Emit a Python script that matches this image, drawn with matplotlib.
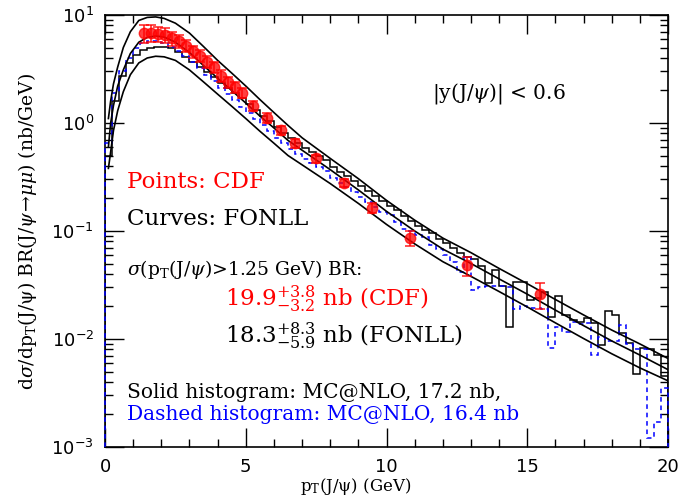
import matplotlib
matplotlib.use("Agg")
import matplotlib.pyplot as plt
import numpy as np
from matplotlib.ticker import FixedLocator, MultipleLocator, LogLocator, NullFormatter

plt.rcParams['font.family'] = ['DejaVu Serif']
plt.rcParams['mathtext.fontset'] = 'dejavuserif'

# CDF data points
cdf_pt = [1.375, 1.625, 1.875, 2.125, 2.375, 2.625, 2.875, 3.125, 3.375, 3.625,
          3.875, 4.125, 4.375, 4.625, 4.875, 5.25, 5.75, 6.25, 6.75, 7.5,
          8.5, 9.5, 10.83, 12.86, 15.45]
cdf_val = [6.8, 6.8, 6.7, 6.5, 6.1, 5.7, 5.2, 4.6, 4.2, 3.7,
           3.3, 2.75, 2.4, 2.15, 1.9, 1.45, 1.12, 0.86, 0.65, 0.47,
           0.28, 0.163, 0.086, 0.048, 0.026]
cdf_err = [1.3, 1.2, 1.1, 1.0, 0.9, 0.8, 0.7, 0.6, 0.5, 0.45,
           0.4, 0.33, 0.28, 0.25, 0.2, 0.15, 0.11, 0.08, 0.06, 0.04,
           0.025, 0.017, 0.014, 0.01, 0.007]

# FONLL curves: central, upper, lower
fonll_pt = [0.12, 0.2, 0.3, 0.45, 0.65, 0.9, 1.2, 1.5, 1.8, 2.1, 2.5, 3.0, 3.5,
            4.0, 4.5, 5.0, 5.5, 6.0, 6.5, 7.0, 8.0, 9.0, 10.0, 11.0, 12.0,
            13.0, 14.0, 15.0, 16.0, 17.0, 18.0, 19.0, 20.0]
fonll_mid = [0.6, 1.0, 1.45, 2.2, 3.1, 4.4, 5.6, 6.2, 6.4, 6.25, 5.6, 4.5, 3.4,
             2.6, 2.0, 1.53, 1.16, 0.90, 0.69, 0.56, 0.37, 0.24, 0.152, 0.100, 0.068,
             0.050, 0.036, 0.026, 0.0185, 0.0133, 0.0096, 0.0071, 0.0052]
fonll_up = [1.1, 1.6, 2.3, 3.3, 5.0, 7.0, 8.9, 9.5, 9.6, 9.3, 8.4, 6.8, 5.1,
            3.8, 2.9, 2.2, 1.65, 1.25, 0.95, 0.73, 0.47, 0.305, 0.192, 0.126, 0.086,
            0.063, 0.045, 0.0325, 0.0232, 0.0167, 0.0121, 0.0090, 0.0066]
fonll_lo = [0.38, 0.54, 0.85, 1.3, 1.95, 2.8, 3.6, 4.0, 4.15, 4.1, 3.8, 3.1, 2.4,
            1.85, 1.43, 1.1, 0.84, 0.65, 0.50, 0.41, 0.275, 0.18, 0.115, 0.076, 0.052,
            0.038, 0.0275, 0.0198, 0.0141, 0.0101, 0.0073, 0.0054, 0.0041]

# MC@NLO histograms, 0.25 GeV bins from 0 to 20
bin_edges = np.arange(81) * 0.25
mc_solid = [0.5, 1.6, 2.7, 3.6, 4.3, 4.75, 5.0, 5.1, 5.1, 4.9,
            4.5, 4.1, 3.65, 3.3, 2.95, 2.65, 2.36, 2.13, 1.9, 1.7,
            1.5, 1.33, 1.17, 1.04, 0.92, 0.81, 0.72, 0.65, 0.585, 0.54,
            0.495, 0.45, 0.39, 0.355, 0.32, 0.29, 0.26, 0.235, 0.21, 0.19,
            0.17, 0.155, 0.138, 0.125, 0.112, 0.102, 0.095, 0.085, 0.077, 0.069,
            0.062, 0.058, 0.055, 0.047, 0.033, 0.044, 0.031, 0.013, 0.034, 0.034,
            0.023, 0.024, 0.027, 0.016, 0.025, 0.0167, 0.015, 0.0145, 0.0155, 0.014,
            0.0088, 0.018, 0.0168, 0.0113, 0.0091, 0.0047, 0.0083, 0.008, 0.0071, 0.0045]
mc_dashed = [0.65, 1.9, 3.0, 4.0, 4.9, 5.5, 5.8, 5.8, 5.5, 5.1,
             4.6, 4.15, 3.65, 3.2, 2.8, 2.45, 2.12, 1.86, 1.63, 1.42,
             1.24, 1.09, 0.95, 0.84, 0.73, 0.65, 0.57, 0.52, 0.465, 0.43,
             0.39, 0.36, 0.31, 0.28, 0.255, 0.23, 0.205, 0.185, 0.168, 0.15,
             0.14, 0.122, 0.105, 0.1, 0.092, 0.088, 0.074, 0.068, 0.06, 0.052,
             0.042, 0.058, 0.0284, 0.03, 0.031, 0.031, 0.031, 0.03, 0.019, 0.02,
             0.0195, 0.0195, 0.019, 0.0082, 0.013, 0.0115, 0.0145, 0.0138, 0.014, 0.0071,
             0.0105, 0.0096, 0.0096, 0.0135, 0.009, 0.008, 0.008, 0.0012, 0.0017, 0.0035]

RED = '#ff0000'
BLUE = '#0000ff'

fig = plt.figure(figsize=(6.78, 5.0), dpi=100)
ax = fig.add_axes([0.1549, 0.106, 0.8304, 0.864])

ax.stairs(mc_solid, bin_edges, baseline=1e-3, color='black', lw=1.1, zorder=2)
ax.stairs(mc_dashed, bin_edges, baseline=1e-3, color=BLUE, lw=1.1,
          linestyle=(0, (3, 2.5)), zorder=3, clip_on=False)

for curve in (fonll_up, fonll_mid, fonll_lo):
    ax.plot(fonll_pt, curve, color='black', lw=1.2, zorder=4)

ax.errorbar(cdf_pt, cdf_val, yerr=cdf_err, fmt='o', color=RED, ms=7.5,
            mfc=RED, mec=RED, alpha=0.75, capsize=3.5, elinewidth=1.3,
            capthick=1.3, zorder=5)

ax.set_yscale('log')
ax.set_xlim(0, 20)
ax.set_ylim(1e-3, 10)

ax.xaxis.set_major_locator(FixedLocator([0, 5, 10, 15, 20]))
ax.xaxis.set_minor_locator(MultipleLocator(1))
ax.set_xticklabels(['0', '5', '10', '15', '20'], family='DejaVu Sans', fontsize=13)
ax.yaxis.set_minor_locator(LogLocator(base=10, subs=np.arange(2, 10), numticks=20))
ax.yaxis.set_minor_formatter(NullFormatter())
ax.set_yticks([1e-3, 1e-2, 1e-1, 1, 10])
ax.set_yticklabels([r'$\mathsf{10^{-3}}$', r'$\mathsf{10^{-2}}$', r'$\mathsf{10^{-1}}$',
                    r'$\mathsf{10^{0}}$', r'$\mathsf{10^{1}}$'], fontsize=13)

ax.tick_params(which='both', direction='in', top=True, right=True, width=1.0)
ax.tick_params(which='major', length=14, pad=8)
ax.tick_params(which='minor', length=6)
for sp in ax.spines.values():
    sp.set_linewidth(1.2)

ax.set_xlabel(r'$\mathrm{p_T(J/\psi)}$ (GeV)', fontsize=12)
ax.xaxis.set_label_coords(0.446, -0.068)
ax.set_ylabel(r'd$\sigma$/d$\mathrm{p_T(J/\psi)}$ BR(J/$\psi\!\rightarrow\!\mu\mu$) (nb/GeV)',
              fontsize=13.5)
ax.yaxis.set_label_coords(-0.118, 0.5)

ax.text(0.581, 0.818, r'$|$y(J/$\psi$)$|$ < 0.6', transform=ax.transAxes,
        fontsize=14.5, va='center', ha='left')
ax.text(0.039, 0.614, 'Points: CDF', color=RED, transform=ax.transAxes,
        fontsize=16.5, va='center', ha='left')
ax.text(0.039, 0.528, 'Curves: FONLL', color='black', transform=ax.transAxes,
        fontsize=16.5, va='center', ha='left')
ax.text(0.039, 0.412, r'$\sigma$(p$_\mathrm{T}$(J/$\psi$)>1.25 GeV) BR:', transform=ax.transAxes,
        fontsize=13.5, va='center', ha='left')
ax.text(0.213, 0.342, r'19.9$^{+3.8}_{-3.2}$ nb (CDF)', color=RED, transform=ax.transAxes,
        fontsize=16.5, va='center', ha='left')
ax.text(0.213, 0.256, r'18.3$^{+8.3}_{-5.9}$ nb (FONLL)', color='black', transform=ax.transAxes,
        fontsize=16.5, va='center', ha='left')
ax.text(0.039, 0.126, 'Solid histogram: MC@NLO, 17.2 nb,', color='black', transform=ax.transAxes,
        fontsize=14.5, va='center', ha='left')
ax.text(0.039, 0.076, 'Dashed histogram: MC@NLO, 16.4 nb', color=BLUE, transform=ax.transAxes,
        fontsize=14.5, va='center', ha='left')

fig.savefig('out.png', dpi=100)
